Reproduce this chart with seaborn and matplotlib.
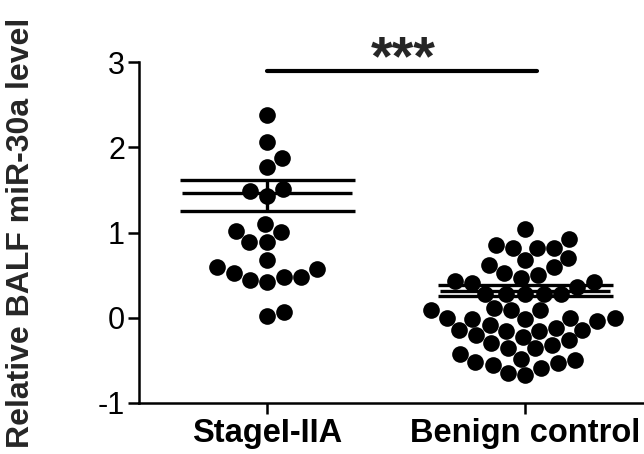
import matplotlib
matplotlib.use("Agg")
import matplotlib.pyplot as plt
import seaborn as sns
import pandas as pd

# Group labels
groups = ["StageI-IIA", "Benign control"]

# Relative BALF miR-30a level, one value per subject
stage_values = [
    2.38, 2.06, 1.87, 1.77, 1.43, 1.49, 1.51, 1.10, 1.01, 1.02, 0.89,
    0.89, 0.68, 0.59, 0.52, 0.57, 0.42, 0.48, 0.48, 0.44, 0.02, 0.07,
]
benign_values = [
    1.04, 0.92, 0.85, 0.82, 0.82, 0.82, 0.70, 0.68, 0.62, 0.59, 0.52,
    0.50, 0.47, 0.42, 0.41, 0.43, 0.36, 0.28, 0.28, 0.28, 0.28, 0.28,
    0.09, 0.09, 0.11, 0.09, -0.04, -0.01, -0.08, 0.00, 0.00, -0.02,
    0.00, -0.14, -0.14, -0.22, -0.12, -0.15, -0.16, -0.20, -0.26,
    -0.32, -0.30, -0.35, -0.36, -0.42, -0.50, -0.53, -0.48, -0.52,
    -0.59, -0.55, -0.67, -0.65,
]

# Mean with SEM bars (lower / upper extent)
group_means = [1.467, 0.319]
sem_lower = [0.216, 0.06]
sem_upper = [0.150, 0.06]

# Significance annotation
sig_text = "***"
sig_level = 2.89

df = pd.DataFrame({
    "group": [groups[0]] * len(stage_values) + [groups[1]] * len(benign_values),
    "value": stage_values + benign_values,
})

sns.set_style("ticks")
plt.rcParams["font.family"] = ["Liberation Sans", "DejaVu Sans"]

fig = plt.figure(figsize=(6.44, 4.54), dpi=100)
ax = fig.add_axes([139 / 644, 51 / 454, 505 / 644, 341 / 454])

sns.swarmplot(data=df, x="group", y="value", order=groups, color="black",
              size=12, ax=ax, zorder=3, warn_thresh=1.0)

xpos = list(range(len(groups)))
# SEM whiskers with caps
ax.errorbar(xpos, group_means, yerr=[sem_lower, sem_upper], fmt="none",
            ecolor="black", elinewidth=2.4, capsize=63, capthick=2.4, zorder=4)
# Mean lines
ax.hlines(group_means, [x - 0.33 for x in xpos], [x + 0.33 for x in xpos],
          colors="black", linewidth=2.4, zorder=4)

# Significance bar and stars
ax.plot([0.0, 1.047], [sig_level, sig_level], color="black", linewidth=3,
        solid_capstyle="round", clip_on=False, zorder=5)
ax.text(0.527, 3.02, sig_text, ha="center", va="center", fontsize=40,
        fontweight="bold", clip_on=False)

ax.set_xlim(-0.496, 1.461)
ax.set_ylim(-1, 3)
ax.set_yticks([-1, 0, 1, 2, 3])
ax.set_yticklabels(["-1", "0", "1", "2", "3"], fontsize=22)
ax.set_xticks(xpos)
ax.set_xticklabels(groups, fontsize=23.5, fontweight="bold")
ax.set_xlabel("")
ax.set_ylabel("Relative BALF miR-30a level", fontsize=23, fontweight="bold")
ax.yaxis.set_label_coords(-0.204, 0.5)

for side in ["top", "right"]:
    ax.spines[side].set_visible(False)
for side in ["left", "bottom"]:
    ax.spines[side].set_linewidth(1.8)
    ax.spines[side].set_color("black")
ax.tick_params(axis="y", direction="out", length=8, width=1.8,
               colors="black", pad=2)
ax.tick_params(axis="x", direction="out", length=8, width=1.8,
               colors="black", pad=3)

fig.savefig("out.png", dpi=100)
